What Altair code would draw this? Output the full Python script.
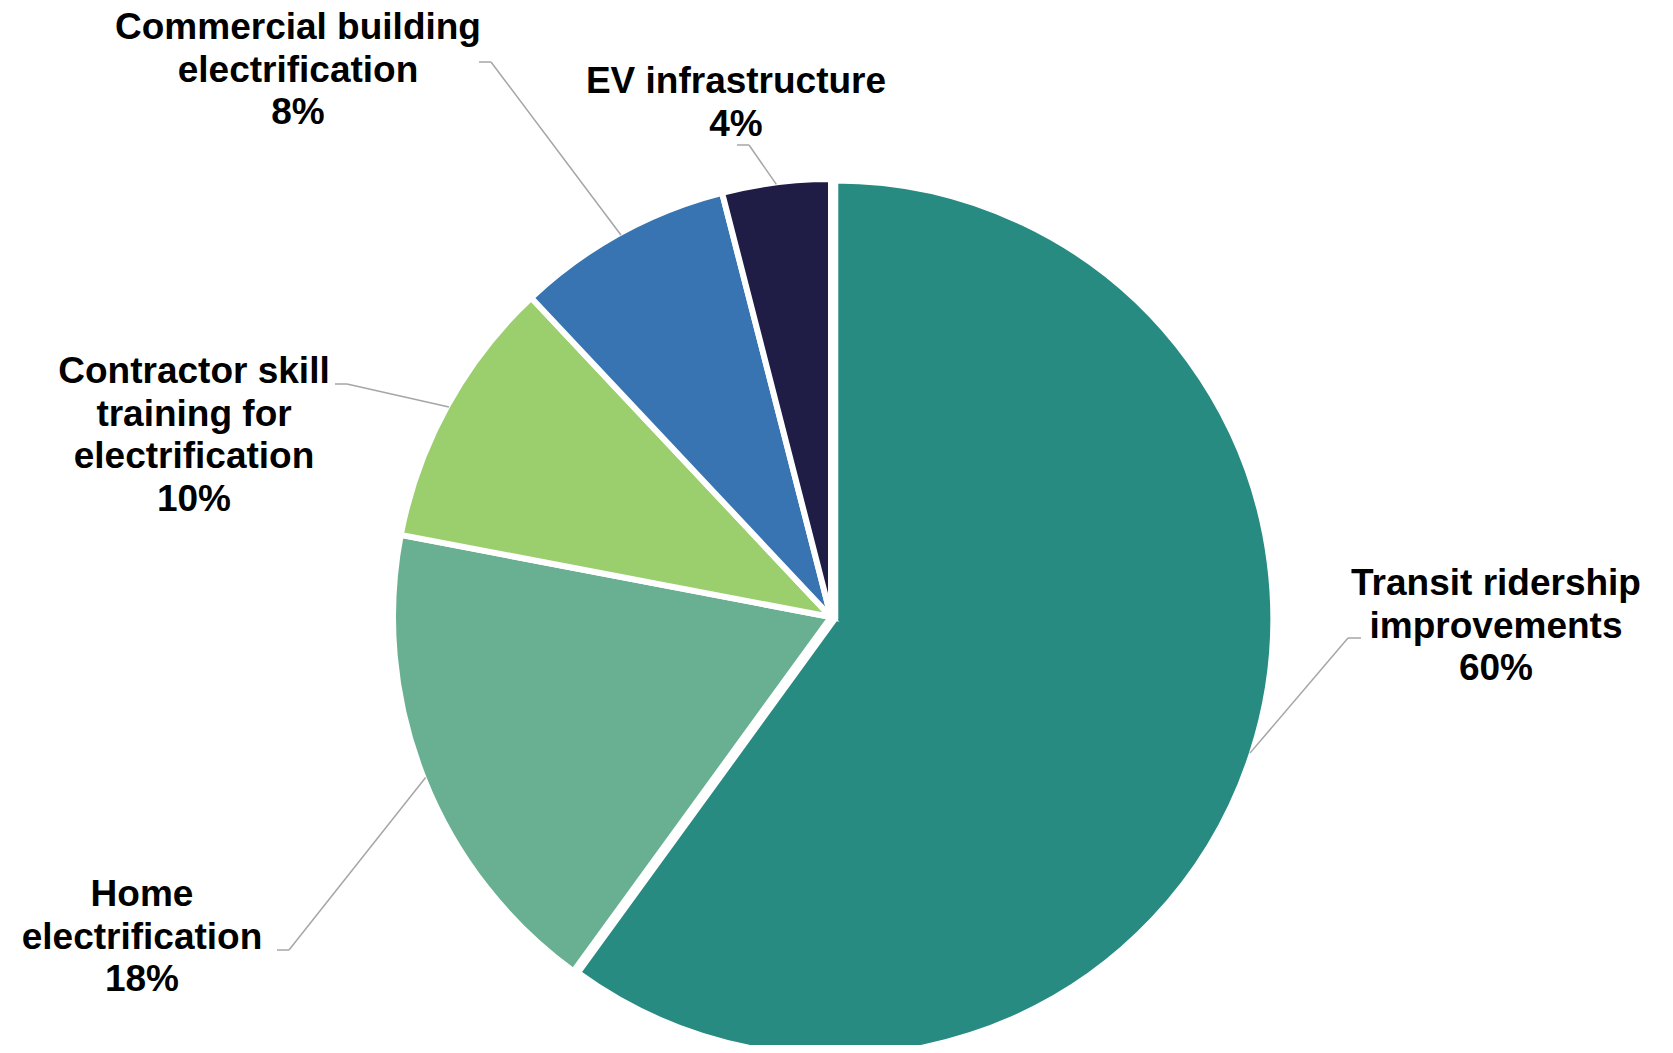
import math
import altair as alt
import pandas as pd

# ---------------- data ----------------
CATEGORIES = [
    "Transit ridership improvements",
    "Home electrification",
    "Contractor skill training for electrification",
    "Commercial building electrification",
    "EV infrastructure",
]
VALUES = [60, 18, 10, 8, 4]
LABEL_LINES = [
    "Transit ridership\nimprovements",
    "Home\nelectrification",
    "Contractor skill\ntraining for\nelectrification",
    "Commercial building\nelectrification",
    "EV infrastructure",
]
COLORS = ["#288B82", "#68B091", "#9BCF6E", "#3774B1", "#1F1D45"]

# ---------------- layout ----------------
W, H = 1657, 1037
CX, CY = 823, 609          # pie centre
R = 438                    # outer radius (stroke eats half of stroke width)
STROKE = 6
EXPLODED = "Transit ridership improvements"
EXPLODE_DIST = 4.5
LEADER_R = 436
# position of the first line of each label
LABEL_XY = [(1488, 576), (134, 887), (186, 364), (290, 20), (728, 74)]
ELBOW_XY = [(1340, 630), (281, 942), (339, 376), (483, 54), (741, 137)]
STUB_END_X = [1353, 269, 327, 471, 729]

df = pd.DataFrame({
    "idx": list(range(len(CATEGORIES))),
    "category": CATEGORIES,
    "value": VALUES,
    "text": [f"{l}\n{v}%" for l, v in zip(LABEL_LINES, VALUES)],
    "lab_x": [p[0] for p in LABEL_XY],
    "lab_y": [p[1] for p in LABEL_XY],
    "elb_x": [p[0] for p in ELBOW_XY],
    "elb_y": [p[1] for p in ELBOW_XY],
    "stub_x": STUB_END_X,
})

base = alt.Chart(df).transform_window(
    end="sum(value)", sort=[alt.SortField("idx")], frame=[None, 0]
).transform_calculate(
    start="datum.end - datum.value",
).transform_calculate(
    mid="(datum.start + datum.end) / 100 * PI",
    off=f"datum.category == '{EXPLODED}' ? {EXPLODE_DIST} : 0",
).transform_calculate(
    px=f"{CX} + datum.off * sin(datum.mid)",
    py=f"{CY} - datum.off * cos(datum.mid)",
).transform_calculate(
    ex=f"datum.px + {LEADER_R} * sin(datum.mid)",
    ey=f"datum.py - {LEADER_R} * cos(datum.mid)",
)

color = alt.Color(
    "category:N",
    scale=alt.Scale(domain=CATEGORIES, range=COLORS),
    legend=None,
)

arcs = base.mark_arc(radius=R, stroke="white", strokeWidth=STROKE, strokeJoin="miter").encode(
    theta=alt.Theta("start:Q", scale=alt.Scale(domain=[0, 100], range=[0, 2 * math.pi])),
    theta2=alt.Theta2("end:Q"),
    x=alt.X("px:Q", scale=None, axis=None),
    y=alt.Y("py:Q", scale=None, axis=None),
    color=color,
)

diag = base.mark_rule(color="#A6A6A6", strokeWidth=1.5).encode(
    x=alt.X("ex:Q", scale=None, axis=None),
    y=alt.Y("ey:Q", scale=None, axis=None),
    x2=alt.X2("elb_x:Q"),
    y2=alt.Y2("elb_y:Q"),
)

stub = base.mark_rule(color="#A6A6A6", strokeWidth=1.5).encode(
    x=alt.X("elb_x:Q", scale=None, axis=None),
    y=alt.Y("elb_y:Q", scale=None, axis=None),
    x2=alt.X2("stub_x:Q"),
)

labels = base.mark_text(
    lineBreak="\n",
    lineHeight=42.5,
    font="Liberation Sans",
    fontSize=37,
    fontWeight="bold",
    align="center",
    baseline="middle",
    color="#000000",
).encode(
    x=alt.X("lab_x:Q", scale=None, axis=None),
    y=alt.Y("lab_y:Q", scale=None, axis=None),
    text="text:N",
)

chart = alt.layer(arcs, diag, stub, labels).properties(
    width=W,
    height=H,
    autosize=alt.AutoSizeParams(type="none"),
    padding=0,
).configure_view(stroke=None)

chart.save("out.html", embed_options={"renderer": "svg", "actions": False})
